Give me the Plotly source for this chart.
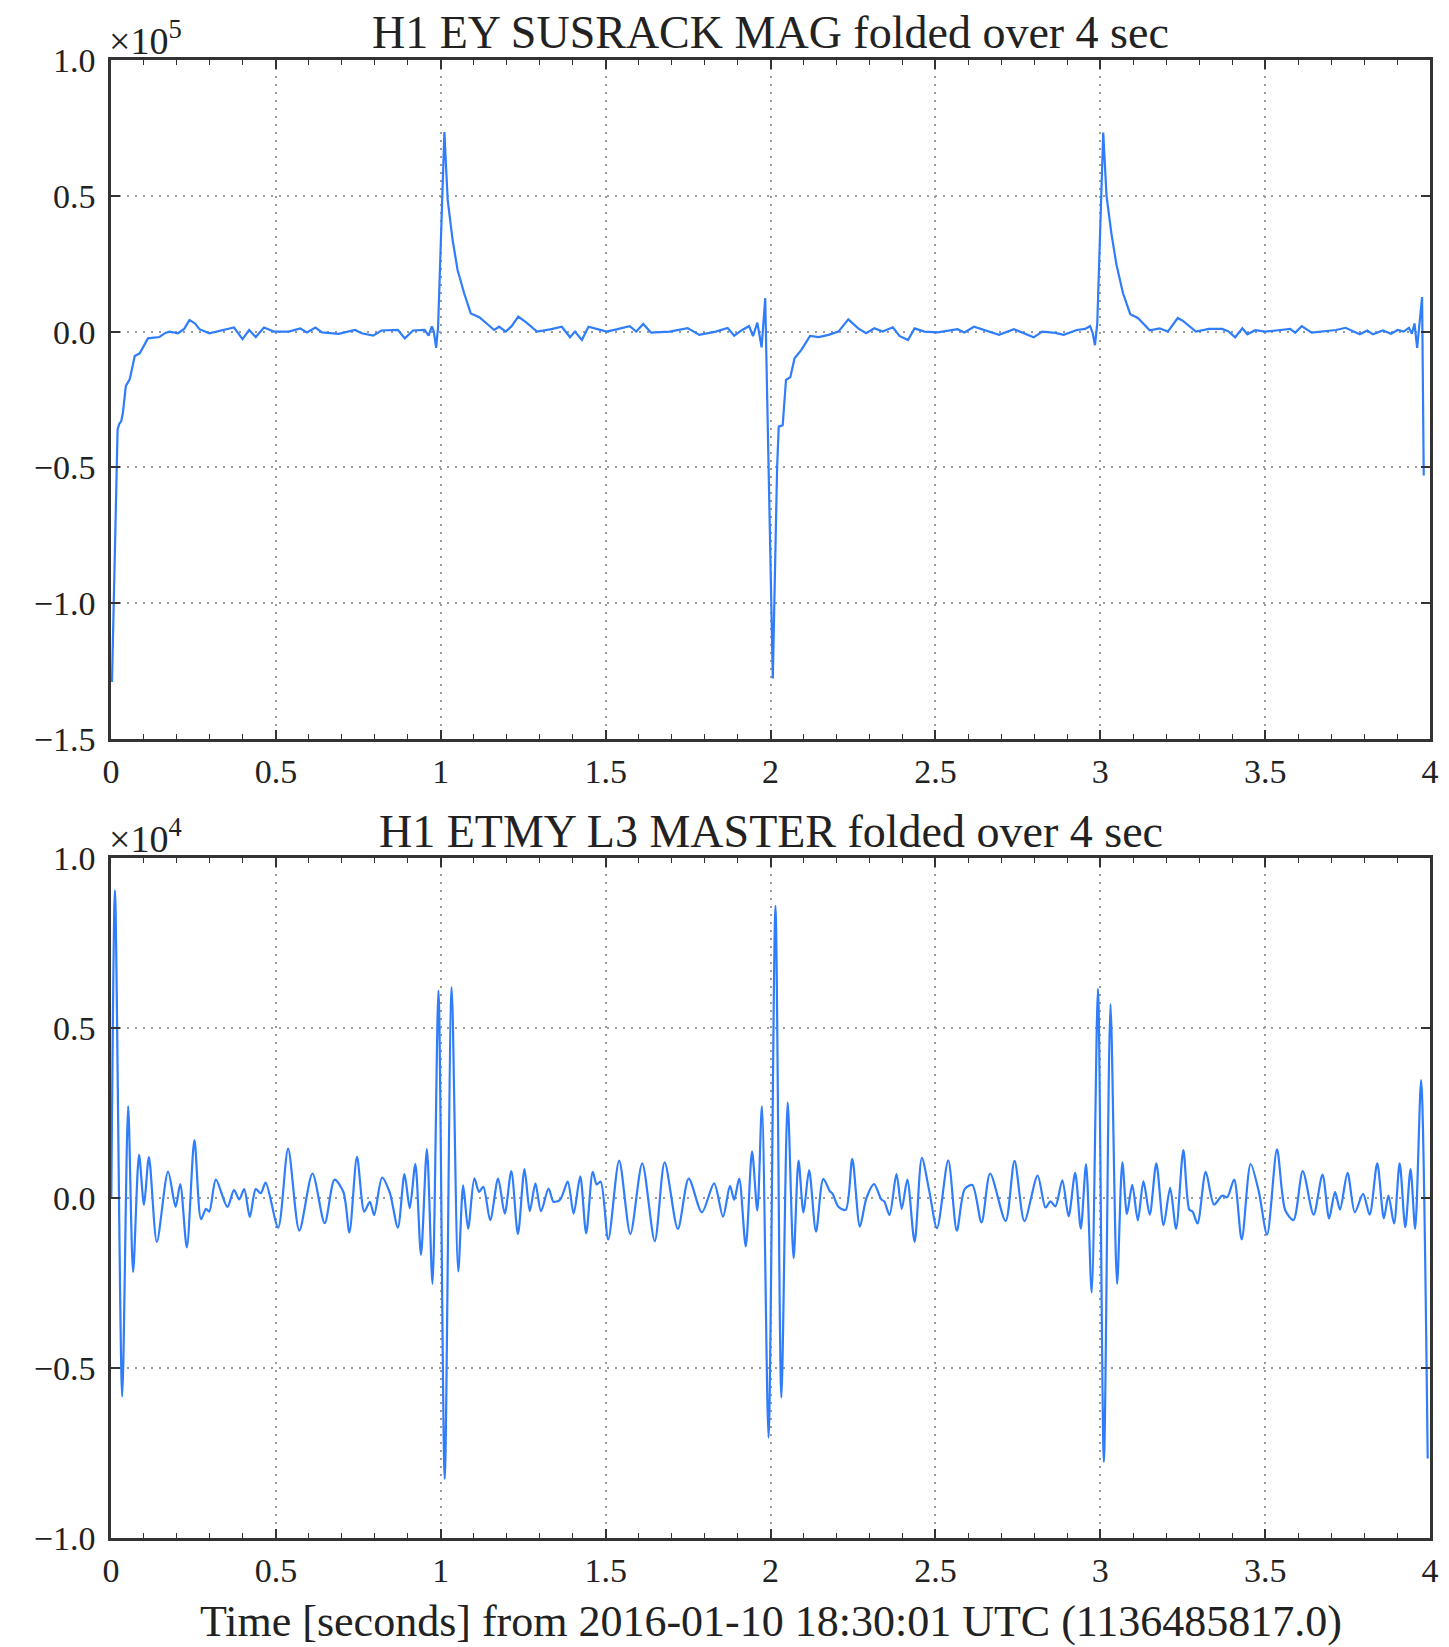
import plotly.graph_objects as go

# ---------------- data ----------------
# Top panel: H1 EY SUSRACK MAG (units of 1e5)
mag_t = [0.003, 0.020, 0.025, 0.031, 0.036, 0.045, 0.057, 0.072, 0.087, 0.112, 0.147, 0.165, 0.178,
         0.203, 0.222, 0.238, 0.255, 0.268, 0.298, 0.338, 0.373, 0.399, 0.419, 0.439, 0.464, 0.494,
         0.539, 0.574, 0.594, 0.620, 0.640, 0.690, 0.740, 0.760, 0.795, 0.820, 0.870, 0.891, 0.916,
         0.951, 0.963, 0.973, 0.979, 0.986, 0.992, 1.011, 1.021, 1.036, 1.051, 1.071, 1.091, 1.117,
         1.137, 1.162, 1.177, 1.197, 1.215, 1.235, 1.260, 1.292, 1.332, 1.367, 1.392, 1.407, 1.428,
         1.448, 1.478, 1.503, 1.533, 1.573, 1.593, 1.614, 1.638, 1.694, 1.749, 1.784, 1.834, 1.870,
         1.890, 1.914, 1.935, 1.947, 1.960, 1.973, 1.984, 2.007, 2.020, 2.025, 2.037, 2.047, 2.060,
         2.073, 2.093, 2.120, 2.146, 2.176, 2.206, 2.236, 2.266, 2.290, 2.315, 2.340, 2.371, 2.391,
         2.417, 2.437, 2.467, 2.507, 2.567, 2.588, 2.617, 2.658, 2.693, 2.738, 2.798, 2.824, 2.864,
         2.889, 2.929, 2.954, 2.969, 2.977, 2.984, 2.991, 3.009, 3.019, 3.034, 3.049, 3.069, 3.091,
         3.114, 3.150, 3.180, 3.205, 3.235, 3.250, 3.290, 3.330, 3.370, 3.390, 3.409, 3.431, 3.446,
         3.470, 3.500, 3.540, 3.576, 3.591, 3.611, 3.641, 3.681, 3.715, 3.744, 3.787, 3.810, 3.827,
         3.857, 3.882, 3.902, 3.920, 3.936, 3.945, 3.953, 3.961, 3.969, 3.976, 3.981]
mag_v = [-1.29, -0.36, -0.34, -0.33, -0.30, -0.20, -0.175, -0.09, -0.08, -0.025, -0.02, -0.005, 0.0,
         -0.006, 0.010, 0.043, 0.030, 0.009, -0.006, 0.006, 0.015, -0.028, 0.006, -0.020, 0.015, 0.0,
         0.0, 0.012, -0.003, 0.015, -0.003, -0.008, 0.006, -0.006, -0.015, 0.004, 0.006, -0.025, 0.004,
         0.006, -0.015, 0.019, 0.0, -0.060, 0.019, 0.735, 0.485, 0.337, 0.227, 0.141, 0.067, 0.053,
         0.033, 0.006, 0.018, 0.0, 0.020, 0.055, 0.033, 0.0, 0.008, 0.018, -0.021, 0.0, -0.031,
         0.018, 0.008, 0.0, 0.008, 0.020, 0.0, 0.028, -0.004, 0.0, 0.013, -0.012, 0.0, 0.013,
         -0.015, 0.006, 0.020, -0.017, 0.033, -0.058, 0.123, -1.277, -0.50, -0.35, -0.345, -0.178, -0.168,
         -0.098, -0.068, -0.016, -0.020, -0.012, 0.0, 0.045, 0.012, -0.006, 0.012, 0.0, 0.016, -0.016,
         -0.031, 0.012, 0.0, -0.003, 0.009, -0.003, 0.018, 0.002, -0.012, 0.009, -0.021, 0.0, -0.005,
         -0.012, 0.006, 0.010, 0.020, -0.005, -0.050, 0.030, 0.733, 0.50, 0.36, 0.247, 0.141, 0.064,
         0.050, 0.005, 0.012, 0.0, 0.050, 0.040, 0.0, 0.010, 0.010, 0.0, -0.021, 0.012, -0.010,
         0.005, 0.0, 0.005, 0.010, -0.004, 0.020, -0.004, 0.0, 0.006, 0.014, -0.010, 0.004, -0.010,
         0.004, -0.008, 0.006, 0.0, 0.014, -0.008, 0.030, -0.060, 0.040, 0.127, -0.53]

# Bottom panel: H1 ETMY L3 MASTER (units of 1e4)
l3_t = [0.001, 0.012, 0.034, 0.052, 0.067, 0.085, 0.100, 0.115, 0.139, 0.173, 0.196, 0.210, 0.230,
        0.253, 0.273, 0.288, 0.298, 0.318, 0.353, 0.373, 0.389, 0.404, 0.421, 0.439, 0.454, 0.469,
        0.507, 0.537, 0.571, 0.611, 0.648, 0.678, 0.705, 0.723, 0.746, 0.768, 0.785, 0.798, 0.822,
        0.845, 0.870, 0.890, 0.906, 0.923, 0.940, 0.958, 0.975, 0.993, 1.012, 1.033, 1.053, 1.068,
        1.083, 1.102, 1.116, 1.129, 1.150, 1.174, 1.194, 1.214, 1.234, 1.254, 1.270, 1.287, 1.304,
        1.327, 1.342, 1.362, 1.385, 1.403, 1.423, 1.441, 1.461, 1.473, 1.485, 1.508, 1.541, 1.575,
        1.611, 1.649, 1.679, 1.719, 1.752, 1.792, 1.829, 1.856, 1.877, 1.890, 1.905, 1.925, 1.944,
        1.960, 1.974, 1.994, 2.015, 2.033, 2.052, 2.070, 2.085, 2.100, 2.117, 2.138, 2.160, 2.180,
        2.188, 2.206, 2.228, 2.248, 2.271, 2.291, 2.314, 2.336, 2.345, 2.361, 2.382, 2.398, 2.415,
        2.437, 2.459, 2.481, 2.505, 2.539, 2.565, 2.589, 2.612, 2.640, 2.666, 2.713, 2.740, 2.770,
        2.810, 2.834, 2.849, 2.864, 2.885, 2.904, 2.924, 2.941, 2.957, 2.974, 2.993, 3.011, 3.031,
        3.051, 3.067, 3.081, 3.097, 3.114, 3.131, 3.150, 3.170, 3.192, 3.212, 3.230, 3.252, 3.270,
        3.280, 3.295, 3.320, 3.345, 3.370, 3.385, 3.406, 3.429, 3.456, 3.481, 3.506, 3.536, 3.561,
        3.586, 3.614, 3.647, 3.674, 3.694, 3.712, 3.727, 3.750, 3.772, 3.797, 3.817, 3.840, 3.860,
        3.874, 3.891, 3.908, 3.925, 3.941, 3.955, 3.973, 3.993]
l3_v = [0.0, 0.905, -0.584, 0.27, -0.218, 0.127, -0.02, 0.12, -0.129, 0.078, -0.026, 0.041, -0.145,
        0.17, -0.062, -0.032, -0.04, 0.054, -0.026, 0.023, -0.004, 0.026, -0.056, 0.026, 0.014, 0.045,
        -0.087, 0.145, -0.096, 0.072, -0.074, 0.054, 0.017, -0.101, 0.121, -0.04, -0.011, -0.05, 0.06,
        0.017, -0.087, 0.07, -0.03, 0.10, -0.167, 0.144, -0.253, 0.61, -0.826, 0.62, -0.216, 0.037,
        -0.09, 0.058, 0.018, 0.033, -0.065, 0.057, -0.046, 0.079, -0.106, 0.085, -0.039, 0.043, -0.039,
        0.028, -0.011, -0.005, 0.048, -0.046, 0.064, -0.104, 0.077, 0.04, 0.048, -0.122, 0.11, -0.106,
        0.102, -0.127, 0.105, -0.091, 0.057, -0.042, 0.043, -0.055, 0.036, -0.005, 0.057, -0.142, 0.137,
        -0.037, 0.27, -0.705, 0.859, -0.587, 0.281, -0.177, 0.11, -0.043, 0.082, -0.099, 0.056, 0.02,
        0.013, -0.026, -0.035, 0.115, -0.084, 0.0, 0.041, -0.004, -0.01, -0.05, 0.07, -0.032, 0.054,
        -0.129, 0.118, 0.023, -0.089, 0.111, -0.096, 0.026, 0.038, -0.072, 0.072, -0.068, 0.109, -0.068,
        0.066, -0.028, -0.01, -0.025, 0.052, -0.054, 0.074, -0.09, 0.10, -0.278, 0.615, -0.776, 0.57,
        -0.253, 0.105, -0.047, 0.039, -0.066, 0.049, -0.049, 0.102, -0.08, 0.03, -0.091, 0.141, -0.034,
        -0.04, -0.075, 0.077, -0.019, 0.007, 0.002, 0.054, -0.122, 0.10, 0.018, -0.108, 0.143, -0.036,
        -0.065, 0.079, -0.049, 0.069, -0.06, 0.018, -0.034, 0.074, -0.042, 0.012, -0.049, 0.102, -0.06,
        0.007, -0.075, 0.102, -0.086, 0.085, -0.091, 0.347, -0.766]

x_ticks = [0, 0.5, 1, 1.5, 2, 2.5, 3, 3.5, 4]
x_ticklabels = ["0", "0.5", "1", "1.5", "2", "2.5", "3", "3.5", "4"]
top_title = "H1 EY SUSRACK MAG folded over 4 sec"
bottom_title = "H1 ETMY L3 MASTER folded over 4 sec"
x_label = "Time [seconds] from 2016-01-10 18:30:01 UTC (1136485817.0)"

# ---------------- figure ----------------
W, H = 1449, 1647
ML, MR, MT, MB = 111, 10, 60, 109
plot_h = H - MT - MB


def py2paper(py):
    return (H - MB - py) / plot_h


FONT = "Liberation Serif"
LINE_COLOR = "#2f7dfb"
AX_COLOR = "#333333"
GRID_COLOR = "#9a9a9a"

fig = go.Figure()
fig.add_trace(go.Scatter(x=mag_t, y=mag_v, mode="lines", xaxis="x", yaxis="y",
                         line=dict(color=LINE_COLOR, width=2.2), showlegend=False))
fig.add_trace(go.Scatter(x=l3_t, y=l3_v, mode="lines", xaxis="x2", yaxis="y2",
                         line=dict(color=LINE_COLOR, width=2.2, shape="spline", smoothing=0.8),
                         showlegend=False))

xcommon = dict(range=[0, 4], tickvals=x_ticks, ticktext=x_ticklabels,
               showline=True, linewidth=2.5, linecolor=AX_COLOR, mirror="allticks",
               ticks="inside", ticklen=9, tickwidth=1.5, tickcolor=AX_COLOR,
               showgrid=True, gridcolor=GRID_COLOR, gridwidth=1.5, griddash="2px,6px",
               zeroline=False,
               minor=dict(ticks="inside", ticklen=5, tickwidth=1.2, tickcolor=AX_COLOR,
                          dtick=0.1, tick0=0, showgrid=False),
               tickfont=dict(family=FONT, size=34, color="#222"))
ycommon = dict(showline=True, linewidth=2.5, linecolor=AX_COLOR, mirror="allticks",
               ticks="inside", ticklen=9, tickwidth=1.5, tickcolor=AX_COLOR,
               showgrid=True, gridcolor=GRID_COLOR, gridwidth=1.5, griddash="2px,6px",
               zeroline=False, dtick=0.5, tick0=0, tickformat=".1f",
               ticklabelstandoff=6,
               tickfont=dict(family=FONT, size=34, color="#222"))

top_bottom = py2paper(739)
bot_top = py2paper(858)

fig.update_layout(
    width=W, height=H,
    margin=dict(l=ML, r=MR, t=MT, b=MB),
    paper_bgcolor="white", plot_bgcolor="white",
    xaxis=dict(domain=[0, 1], anchor="y", **xcommon),
    yaxis=dict(domain=[top_bottom, 1], anchor="x", range=[-1.5, 1.0], **ycommon),
    xaxis2=dict(domain=[0, 1], anchor="y2", **xcommon),
    yaxis2=dict(domain=[0, bot_top], anchor="x2", range=[-1.0, 1.0], **ycommon),
    annotations=[
        dict(text=top_title, xref="paper", yref="paper", x=0.5, y=py2paper(32),
             xanchor="center", yanchor="middle", showarrow=False,
             font=dict(family=FONT, size=46, color="#222")),
        dict(text=bottom_title, xref="paper", yref="paper", x=0.5, y=py2paper(831),
             xanchor="center", yanchor="middle", showarrow=False,
             font=dict(family=FONT, size=46, color="#222")),
        dict(text=x_label, xref="paper", yref="paper", x=0.5, y=py2paper(1621),
             xanchor="center", yanchor="middle", showarrow=False,
             font=dict(family=FONT, size=44, color="#222")),
        dict(text="×10<sup>5</sup>", xref="paper", yref="paper", x=-0.002, y=py2paper(63),
             xanchor="left", yanchor="bottom", showarrow=False, borderpad=0,
             font=dict(family=FONT, size=38, color="#222")),
        dict(text="×10<sup>4</sup>", xref="paper", yref="paper", x=-0.002, y=py2paper(861),
             xanchor="left", yanchor="bottom", showarrow=False, borderpad=0,
             font=dict(family=FONT, size=38, color="#222")),
    ],
)

fig.write_html("out.html")
